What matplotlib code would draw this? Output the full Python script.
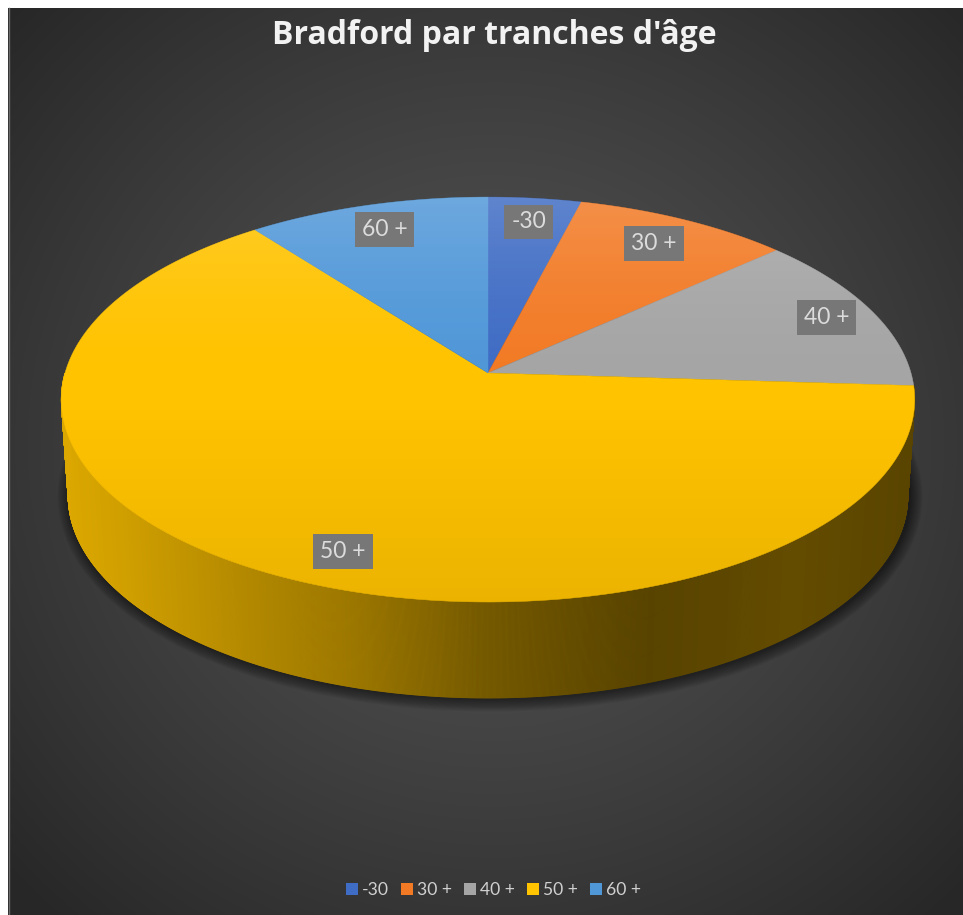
import numpy as np
import matplotlib
matplotlib.use("Agg")
import matplotlib.pyplot as plt
from matplotlib.colors import to_rgb
from matplotlib.lines import Line2D
from matplotlib.patches import Polygon

categories = ["-30", "30 +", "40 +", "50 +", "60 +"]
values = [4.0, 9.3, 12.7, 63.6, 10.4]
colors = ["#3f6cc4", "#f27a25", "#a5a5a5", "#ffc300", "#5097d8"]
title = "Bradford par tranches d'âge"

# label placement, fraction of radius and angle nudge in degrees
label_r = [0.85, 0.83, 0.88, 0.86, 0.84]
label_nudge = [0, 0, 0, -7.2, 0]

W, H = 963, 915
cx, cy = 488, 373
R, A, K = 423, 199, 0.131  # perspective of the pie top
depth = 96
bottom_scale = 0.984

plt.rcParams['font.family'] = ['Lato', 'DejaVu Sans']


def project(theta, r=1.0):
    # theta in degrees, clockwise from 12 o'clock
    t = np.radians(theta)
    u, v = r * np.sin(t), r * np.cos(t)
    w = 1 + K * v
    return cx + R * u / w, cy - A * v / w


def bottom_of(x, y):
    return cx + (x - cx) * bottom_scale, y + depth


fig = plt.figure(figsize=(W / 100, H / 100), dpi=100, facecolor="white")
ax = fig.add_axes([0, 0, 1, 1])
ax.axis("off")

# background
yy, xx = np.mgrid[0:H, 0:W]
dist = np.hypot((xx - 488) / 660, (yy - 440) / 640)
grey = 0.335 - 0.18 * np.clip(dist, 0, 1) ** 1.2
ax.imshow(np.dstack([grey, grey, grey]), extent=(8, W, H, 8), zorder=0, interpolation="bilinear")
ax.plot([8.5, 8.5], [8, H], color="#6a6a6a", lw=1, zorder=1)

angles = np.cumsum([0] + values) / sum(values) * 360
th = np.linspace(0, 360, 721)
rim_x, rim_y = project(th)
bot_x, bot_y = bottom_of(rim_x, rim_y)

# soft shadow under the pie
for i in range(14, 0, -1):
    ax.add_patch(Polygon(np.column_stack([bot_x + 2, bot_y + 1]), closed=True, fc="none",
                         ec="black", lw=i * 1.3, alpha=0.04, zorder=2, joinstyle="round"))
ax.add_patch(Polygon(np.column_stack([bot_x, bot_y]), closed=True, fc="black", zorder=2))

# side wall, shaded along x
stops_x = [0.0, 0.05, 0.18, 0.34, 0.49, 0.6, 0.69, 0.78, 0.86, 1.0]
stops_v = [0.86, 0.83, 0.73, 0.62, 0.47, 0.40, 0.35, 0.37, 0.39, 0.35]
wall_th = np.linspace(90, 270, 1400)
for a, b in zip(wall_th[:-1], wall_th[1:]):
    xa, ya = project(a)
    xb, yb = project(b)
    xa2, ya2 = bottom_of(xa, ya)
    xb2, yb2 = bottom_of(xb, yb)
    mid = (a + b) / 2
    idx = np.searchsorted(angles, mid) - 1
    shade = np.interp(((xa + xb) / 2 - 61) / 854, stops_x, stops_v)
    c = np.array(to_rgb(colors[idx])) * shade
    ax.fill([xa, xb, xb2, xa2], [ya, yb, yb2, ya2], color=c, lw=0.6, zorder=3)

# top of the pie
for i, col in enumerate(colors):
    t = np.linspace(angles[i], angles[i + 1], 200)
    px, py = project(t)
    ax.fill(np.r_[cx, px], np.r_[cy, py], color=col, lw=0.3, zorder=4)

# light from the top, slight dimming at the front
ramp_y = np.linspace(197, 602, 300)
ramp = np.zeros((300, 1, 4))
up = np.clip((390 - ramp_y) / 193, 0, 1)
down = np.clip((ramp_y - 400) / 202, 0, 1)
ramp[:, 0, :3] = (up > 0)[:, None] * 1.0
ramp[:, 0, 3] = 0.17 * up ** 1.6 + 0.08 * down
overlay = ax.imshow(ramp, extent=(50, 930, 602, 197), aspect="auto", zorder=5, interpolation="bilinear")
overlay.set_clip_path(Polygon(np.column_stack([rim_x, rim_y]), closed=True, transform=ax.transData))

# data labels
mids = (angles[:-1] + angles[1:]) / 2
for name, m, r, nudge in zip(categories, mids, label_r, label_nudge):
    lx, ly = project(m + nudge, r)
    ax.text(lx, ly, name, ha="center", va="center", fontsize=16.5, color="#dcdcdc", zorder=6,
            bbox=dict(boxstyle="square,pad=0.3", fc="#777777", ec="none"))

ax.text(494, 36, title, ha="center", va="center", fontsize=23, fontweight="bold", color="#f2f2f2",
        family=["Open Sans", "DejaVu Sans"], zorder=6)

handles = [Line2D([], [], ls="none", marker="s", ms=8, color=c, mew=0) for c in colors]
ax.legend(handles, categories, loc="center", bbox_to_anchor=(492 / W, 1 - 890 / H), ncol=5, frameon=False,
          fontsize=12.6, labelcolor="#d0d0d0", handletextpad=0.05, columnspacing=0.55, handlelength=1.0)

ax.set_xlim(0, W)
ax.set_ylim(H, 0)
fig.savefig("out.png", dpi=100)
